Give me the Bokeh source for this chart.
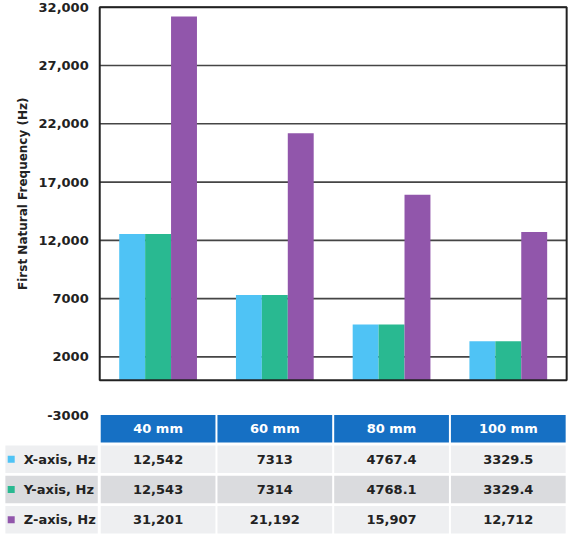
import math
from bokeh.plotting import figure
from bokeh.models import Range1d, FixedTicker
from bokeh.core.properties import value
from bokeh.embed import file_html
from bokeh.resources import INLINE

sizes = ["40 mm", "60 mm", "80 mm", "100 mm"]
x_axis_hz = [12542, 7313, 4767.4, 3329.5]
y_axis_hz = [12543, 7314, 4768.1, 3329.4]
z_axis_hz = [31201, 21192, 15907, 12712]
series_names = ["X-axis, Hz", "Y-axis, Hz", "Z-axis, Hz"]
series_colors = ["#4fc3f5", "#29b991", "#9156ab"]
y_ticks = [2000, 7000, 12000, 17000, 22000, 27000, 32000]
table_axis_tick = -3000

FONT = "DejaVu Sans"
INK = "#222222"
W, H = 572, 536
SX, SY = W / 588, H / 552
LEFT_PX = 102 * SX                    # chart frame left
CW = (582 - 102) * SX / 4             # px per category
TOP_PX = 7 * SY                       # 32,000 line
PX = (391 - 7) * SY / 32000           # px per Hz


def fmt(v):
    if abs(v) >= 10000:
        return f"{v:,.0f}"
    if float(v).is_integer():
        return str(int(v))
    return str(v)


def x_of(rx):
    # reference-picture x -> data x
    return (rx * SX - LEFT_PX) / CW


def y_of(fy):
    # figure pixel y -> data y
    return y_ticks[-1] - (fy - TOP_PX) / PX


p = figure(x_range=Range1d(x_of(0), x_of(588)), y_range=Range1d(y_of(H), y_of(0)),
           width=W, height=H, min_border=0, x_axis_location=None,
           output_backend="svg", toolbar_location=None)
p.grid.visible = False
p.outline_line_color = None

n = len(sizes)
ymax = y_ticks[-1]

# grid lines inside the chart only
p.segment(x0=[0] * len(y_ticks), x1=[n] * len(y_ticks), y0=y_ticks, y1=y_ticks,
          line_color="#454545", line_width=1.6)

# grouped bars
bw = 0.222
centers = [i + 0.5 for i in range(n)]
for k, (vals, c) in enumerate(zip([x_axis_hz, y_axis_hz, z_axis_hz], series_colors)):
    p.vbar(x=[cx + (k - 1) * bw for cx in centers], top=vals, bottom=0, width=bw,
           fill_color=c, line_color=None)

# chart frame
p.quad(left=[0], right=[n], bottom=[0], top=[ymax], fill_color=None,
       line_color=INK, line_width=2)

# y axis, pinned to the chart's left edge
ax = p.yaxis[0]
ax.fixed_location = 0
ax.ticker = FixedTicker(ticks=[table_axis_tick] + y_ticks)
ax.major_label_overrides = {t: fmt(t) for t in [table_axis_tick] + y_ticks}
ax.axis_line_color = None
ax.major_tick_line_color = None
ax.minor_tick_line_color = None
ax.major_label_standoff = 5
ax.major_label_text_font = FONT
ax.major_label_text_font_style = "bold"
ax.major_label_text_font_size = "13px"
ax.major_label_text_color = INK

p.text(x=[x_of(23)], y=[ymax / 2], text=["First Natural Frequency (Hz)"], angle=math.pi / 2,
       text_color=INK, text_font=value(FONT), text_font_style="bold", text_font_size="12px",
       text_align="center", text_baseline="middle")

# table
row_h = 27.5 / PX
row_step = 30.3 / PX
gap = 1 / CW
lefts = [i + gap for i in range(n)]
rights = [i + 1 - gap for i in range(n)]

top = table_axis_tick
p.quad(left=lefts, right=rights, top=[top] * n, bottom=[top - row_h] * n,
       fill_color="#1670c4", line_color=None)
p.text(x=centers, y=[top - row_h / 2] * n, text=sizes, text_color="white",
       text_font=value(FONT), text_font_style="bold", text_font_size="13px",
       text_align="center", text_baseline="middle")

row_fill = ["#eeeff1", "#dadbde", "#eeeff1"]
for k, (name, vals, c) in enumerate(zip(series_names, [x_axis_hz, y_axis_hz, z_axis_hz], series_colors)):
    rtop = table_axis_tick - (k + 1) * row_step
    mid = rtop - row_h / 2
    p.quad(left=[x_of(5)] + lefts, right=[x_of(100)] + rights, top=[rtop] * (n + 1),
           bottom=[rtop - row_h] * (n + 1), fill_color=row_fill[k], line_color=None)
    p.scatter(x=[x_of(11)], y=[mid], marker="square", size=7, fill_color=c, line_color=None)
    p.text(x=[x_of(24)], y=[mid], text=[name], text_color=INK,
           text_font=value(FONT), text_font_style="bold", text_font_size="13px",
           text_align="left", text_baseline="middle")
    p.text(x=centers, y=[mid] * n, text=[fmt(v) for v in vals], text_color=INK,
           text_font=value(FONT), text_font_style="bold", text_font_size="13px",
           text_align="center", text_baseline="middle")

open("out.html", "w").write(file_html(p, INLINE))
